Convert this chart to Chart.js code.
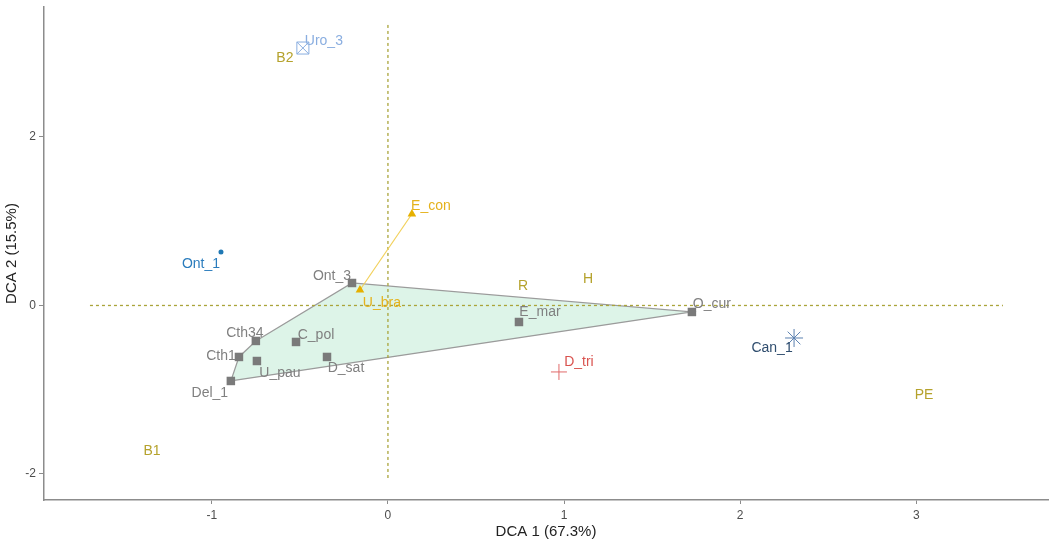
<!DOCTYPE html>
<html>
<head>
<meta charset="utf-8">
<script src="https://cdn.jsdelivr.net/npm/chart.js@4/dist/chart.umd.min.js"></script>
<style>
  html, body { margin: 0; padding: 0; background: #ffffff; }
  #wrap { width: 1054px; height: 544px; position: relative; }
</style>
</head>
<body>
<div id="wrap"><canvas id="dca"></canvas></div>
<script>
// Species in the grey group (the convex hull is drawn around them)
const greyNames = ['Ont_3', 'O_cur', 'E_mar', 'C_pol', 'Cth34', 'Cth1', 'U_pau', 'D_sat', 'Del_1'];
const greyX = [-0.204, 1.726, 0.744, -0.522, -0.750, -0.846, -0.744, -0.346, -0.892];
const greyY = [0.267, -0.077, -0.196, -0.433, -0.421, -0.611, -0.659, -0.611, -0.896];
const hullPath = ['Del_1', 'Cth1', 'Cth34', 'Ont_3', 'O_cur', 'Del_1'];

// Yellow group (two species joined by a segment)
const yellowNames = ['E_con', 'U_bra'];
const yellowX = [0.136, -0.159];
const yellowY = [1.086, 0.184];

// Single-species groups
const uroX = [-0.483], uroY = [3.056];
const ontX = [-0.948], ontY = [0.635];
const canX = [2.306],  canY = [-0.386];
const triX = [0.971],  triY = [-0.789];

// Sites
const siteNames = ['B1', 'B2', 'R', 'H', 'PE'];
const siteX = [-1.340, -0.585, 0.767, 1.136, 3.044];
const siteY = [-1.727, 2.938, 0.231, 0.315, -1.063];

// Axis ticks and reference lines through the origin
const xTicks = [-1, 0, 1, 2, 3];
const yTicks = [-2, 0, 2];
const hRefX = [-1.692, 3.492];
const vRefY = [3.33, -2.047];

const pts = (xs, ys) => xs.map((x, i) => ({ x: x, y: ys[i] }));
const byName = (names, xs, ys) => Object.fromEntries(names.map((n, i) => [n, { x: xs[i], y: ys[i] }]));
const greyLookup = byName(greyNames, greyX, greyY);

// Label placement (pixel nudge from the marker) and colours
const labelNudge = {
  Ont_3: [-20, -7], O_cur: [20, -8], E_mar: [21, -10], C_pol: [20, -7], Cth34: [-11, -8],
  Cth1: [-18, -1], U_pau: [23, 12], D_sat: [19, 11], Del_1: [-21, 12],
  E_con: [19, -8], U_bra: [22, 13], Uro_3: [21, -7], Ont_1: [-20, 12],
  Can_1: [-22, 10], D_tri: [20, -10]
};
const labelItems = [];
greyNames.forEach((n, i) => labelItems.push({ text: n, x: greyX[i], y: greyY[i], color: '#808080' }));
yellowNames.forEach((n, i) => labelItems.push({ text: n, x: yellowX[i], y: yellowY[i], color: '#e5b21c' }));
labelItems.push({ text: 'Uro_3', x: uroX[0], y: uroY[0], color: '#8aaee0' });
labelItems.push({ text: 'Ont_1', x: ontX[0], y: ontY[0], color: '#2a7cbd' });
labelItems.push({ text: 'Can_1', x: canX[0], y: canY[0], color: '#2f4d6e' });
labelItems.push({ text: 'D_tri', x: triX[0], y: triY[0], color: '#d9534f' });
siteNames.forEach((n, i) => labelItems.push({ text: n, x: siteX[i], y: siteY[i], color: '#b5a22c', site: true }));

const textLabels = {
  id: 'textLabels',
  afterDatasetsDraw(chart) {
    const { ctx, scales } = chart;
    ctx.save();
    ctx.font = '14px "Liberation Sans", Arial, sans-serif';
    ctx.textAlign = 'center';
    ctx.textBaseline = 'middle';
    labelItems.forEach(l => {
      const nudge = l.site ? [0, 0] : (labelNudge[l.text] || [0, 0]);
      ctx.fillStyle = l.color;
      ctx.fillText(l.text, scales.x.getPixelForValue(l.x) + nudge[0], scales.y.getPixelForValue(l.y) + nudge[1]);
    });
    ctx.restore();
  }
};

const refDash = { borderColor: '#aaa43a', borderWidth: 1.3, borderDash: [3, 3], pointRadius: 0, showLine: true, fill: false, order: 9 };
const axisFont = '"Liberation Sans", Arial, sans-serif';

new Chart(document.getElementById('dca'), {
  type: 'scatter',
  data: {
    datasets: [
      {
        label: 'hull',
        data: hullPath.map(n => greyLookup[n]),
        showLine: true,
        fill: 'shape',
        backgroundColor: 'rgba(165,225,195,0.38)',
        borderColor: '#9b9b9b',
        borderWidth: 1.2,
        pointRadius: 0,
        order: 10
      },
      Object.assign({ label: 'h0', data: hRefX.map(x => ({ x: x, y: 0 })) }, refDash),
      Object.assign({ label: 'v0', data: vRefY.map(y => ({ x: 0, y: y })) }, refDash),
      {
        label: 'segment',
        data: pts(yellowX, yellowY),
        showLine: true,
        borderColor: '#f2d15c',
        borderWidth: 1.2,
        pointRadius: 0,
        order: 8
      },
      {
        label: 'grey',
        data: pts(greyX, greyY),
        pointStyle: 'rect',
        pointRadius: 6,
        backgroundColor: '#7a7a7a',
        borderColor: '#7a7a7a',
        borderWidth: 0,
        order: 2
      },
      {
        label: 'yellow',
        data: pts(yellowX, yellowY),
        pointStyle: 'triangle',
        pointRadius: 5,
        backgroundColor: '#e6b000',
        borderColor: '#e6b000',
        borderWidth: 0,
        order: 2
      },
      {
        label: 'Uro box',
        data: pts(uroX, uroY),
        pointStyle: 'rect',
        pointRadius: 8.5,
        backgroundColor: 'rgba(0,0,0,0)',
        borderColor: '#8aaee0',
        borderWidth: 1,
        order: 2
      },
      {
        label: 'Uro cross',
        data: pts(uroX, uroY),
        pointStyle: 'crossRot',
        pointRadius: 8.5,
        borderColor: '#8aaee0',
        borderWidth: 1,
        order: 2
      },
      {
        label: 'Ont',
        data: pts(ontX, ontY),
        pointStyle: 'circle',
        pointRadius: 2.5,
        backgroundColor: '#1f78b4',
        borderColor: '#1f78b4',
        borderWidth: 0,
        order: 2
      },
      {
        label: 'Can',
        data: pts(canX, canY),
        pointStyle: 'star',
        pointRadius: 9,
        borderColor: '#5b80b0',
        borderWidth: 1,
        order: 2
      },
      {
        label: 'Tri',
        data: pts(triX, triY),
        pointStyle: 'cross',
        pointRadius: 8,
        borderColor: '#e06a6a',
        borderWidth: 1,
        order: 2
      }
    ]
  },
  options: {
    responsive: true,
    maintainAspectRatio: false,
    animation: false,
    layout: { autoPadding: false, padding: { top: 7, right: 6, left: 0, bottom: 0 } },
    plugins: { legend: { display: false }, tooltip: { enabled: false } },
    scales: {
      x: {
        type: 'linear',
        min: -1.953,
        max: 3.748,
        afterBuildTicks: s => { s.ticks = xTicks.map(v => ({ value: v })); },
        afterFit: s => { s.height = 44; s.paddingLeft = 0; s.paddingRight = 0; },
        ticks: { color: '#4d4d4d', padding: 4, font: { family: axisFont, size: 12 } },
        grid: { display: true, drawOnChartArea: false, drawTicks: true, tickLength: 4, color: '#8c8c8c' },
        border: { display: true, color: '#8c8c8c', width: 1.5 },
        title: { display: true, text: 'DCA 1 (67.3%)', color: '#222222', padding: { top: 0, bottom: 3 },
                 font: { family: axisFont, size: 15 } }
      },
      y: {
        type: 'linear',
        min: -2.309,
        max: 3.543,
        afterBuildTicks: s => { s.ticks = yTicks.map(v => ({ value: v })); },
        afterFit: s => { s.width = 44; s.paddingTop = 0; s.paddingBottom = 0; },
        ticks: { color: '#4d4d4d', padding: 3, font: { family: axisFont, size: 12 } },
        grid: { display: true, drawOnChartArea: false, drawTicks: true, tickLength: 5, color: '#8c8c8c' },
        border: { display: true, color: '#8c8c8c', width: 1.5 },
        title: { display: true, text: 'DCA 2 (15.5%)', color: '#222222', padding: { top: 3, bottom: 0 },
                 font: { family: axisFont, size: 15 } }
      }
    }
  },
  plugins: [textLabels]
});
</script>
</body>
</html>
